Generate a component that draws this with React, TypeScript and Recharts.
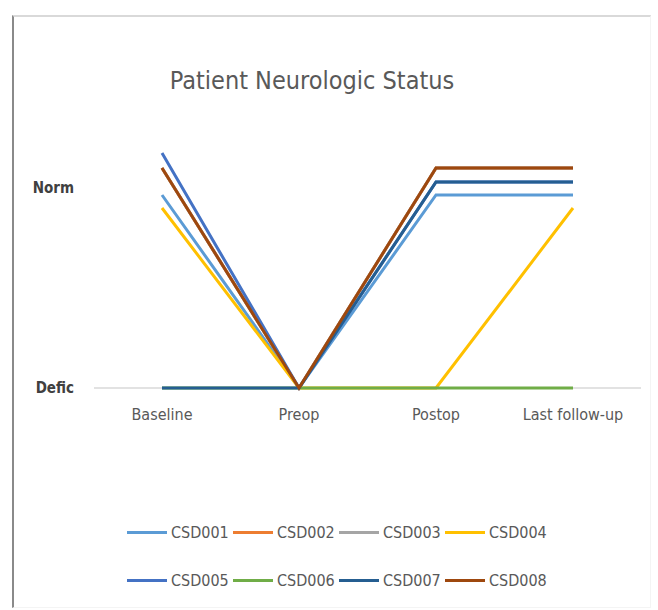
import React from 'react';
import { LineChart, Line, XAxis, YAxis, CartesianGrid } from 'recharts';

const categories = ['Baseline', 'Preop', 'Postop', 'Last follow-up'];
const seriesNames = ['CSD001', 'CSD002', 'CSD003', 'CSD004', 'CSD005', 'CSD006', 'CSD007', 'CSD008'];
const csd001 = [0.965, 0, 0.965, 0.965];
const csd002 = [1.1, 0, 1.1, 1.1];
const csd003 = [1.1, 0, 1.1, 1.1];
const csd004 = [0.9, 0, 0, 0.9];
const csd005 = [1.175, 0, 1.03, 1.03];
const csd006 = [0, 0, 0, 0];
const csd007 = [0, 0, 1.03, 1.03];
const csd008 = [1.1, 0, 1.1, 1.1];
const yTicks = [0, 1];
const yTickLabels: Record<number, string> = { 0: 'Defic', 1: 'Norm' };

const seriesValues = [csd001, csd002, csd003, csd004, csd005, csd006, csd007, csd008];
const colors = ['#5B9BD5', '#ED7D31', '#A5A5A5', '#FFC000', '#4472C4', '#70AD47', '#255E91', '#9E480E'];

const data = categories.map((c, i) => {
  const row: Record<string, any> = { name: c };
  seriesNames.forEach((s, k) => { row[s] = seriesValues[k][i]; });
  return row;
});

const FONT = '"Liberation Sans Narrow", "DejaVu Sans Condensed", "Open Sans", sans-serif';

const YTick = (props: any) => {
  const { y, payload } = props;
  return (
    <text x={74} y={y} dy={5} textAnchor="end" fill="#404040" fontSize={15} fontFamily={FONT} fontWeight="bold">
      {yTickLabels[payload.value]}
    </text>
  );
};

const XTick = (props: any) => {
  const { x, y, payload } = props;
  return (
    <text x={x} y={y} dy={24} textAnchor="middle" fill="#595959" fontSize={16} fontFamily={FONT}>
      {payload.value}
    </text>
  );
};

export default function App() {
  const rows = [seriesNames.slice(0, 4), seriesNames.slice(4, 8)];
  return (
    <div style={{ position: 'absolute', left: 0, top: 0, width: 658, height: 610, background: '#fff', overflow: 'hidden' }}>
      <div style={{ position: 'absolute', left: 12, top: 15, width: 636, height: 590, borderLeft: '2px solid #8a8a8a', borderTop: '2px solid #d9d9d9', borderRight: '1px solid #f4f4f4', borderBottom: '1px solid #f4f4f4' }} />
      <div style={{ position: 'absolute', left: 0, width: 624, top: 66, textAlign: 'center', fontFamily: FONT, fontSize: 25, color: '#595959' }}>
        Patient Neurologic Status
      </div>
      <div style={{ position: 'absolute', left: 0, top: 0 }}>
        <LineChart width={658} height={610} data={data} margin={{ top: 148, right: 17, bottom: 182, left: 0 }}>
          <CartesianGrid vertical={false} horizontalValues={[0]} stroke="#d9d9d9" strokeWidth={1.5} />
          <XAxis dataKey="name" padding={{ left: 68, right: 68 }} axisLine={false} tickLine={false} tick={<XTick />} height={40} interval={0} />
          <YAxis domain={[0, 1.2]} ticks={yTicks} width={94} axisLine={false} tickLine={false} tick={<YTick />} />
          {seriesNames.map((s, k) => (
            <Line key={s} type="linear" dataKey={s} stroke={colors[k]} strokeWidth={3} dot={false} isAnimationActive={false} />
          ))}
        </LineChart>
      </div>
      {rows.map((row, r) => (
        <div key={r} style={{ position: 'absolute', left: 127, top: 523 + r * 48, display: 'flex', alignItems: 'center', fontFamily: FONT, fontSize: 16, color: '#595959' }}>
          {row.map((s) => {
            const k = seriesNames.indexOf(s);
            return (
              <div key={s} style={{ display: 'flex', alignItems: 'center', width: 106 }}>
                <div style={{ width: 40, height: 3, background: colors[k], marginRight: 4 }} />
                <span>{s}</span>
              </div>
            );
          })}
        </div>
      ))}
    </div>
  );
}
